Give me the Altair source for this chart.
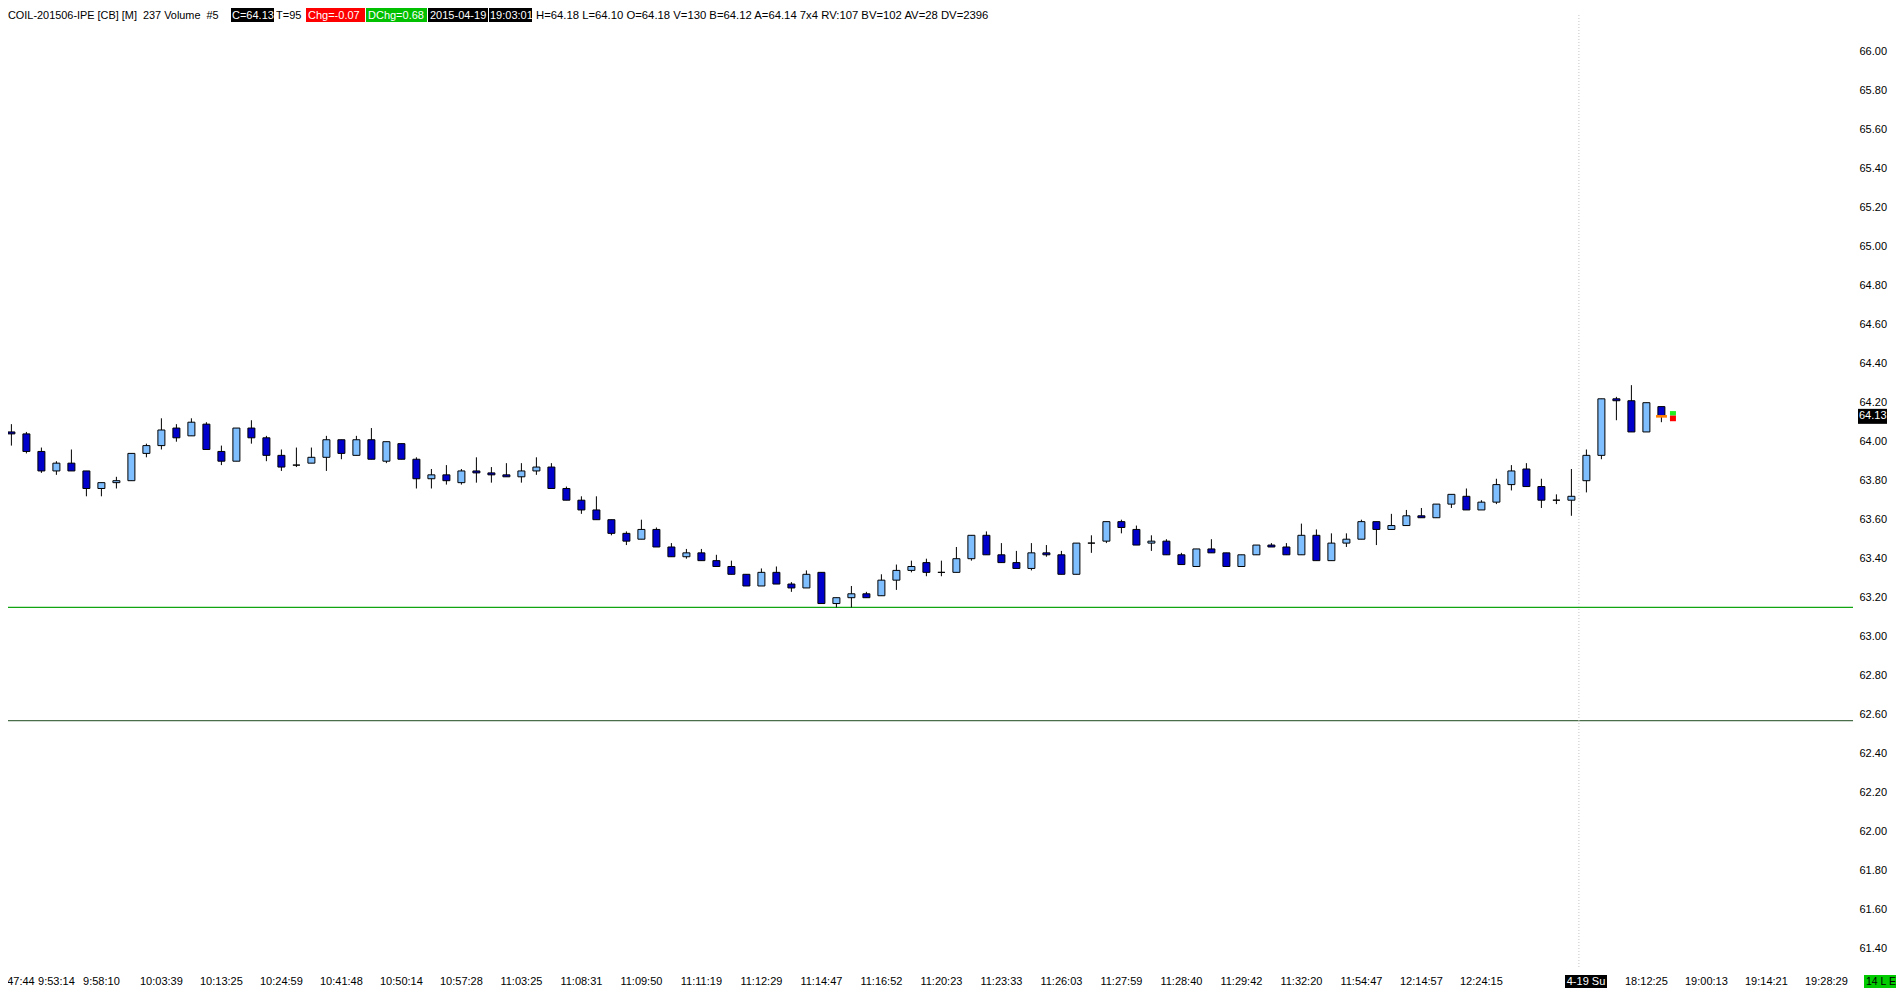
import altair as alt
import pandas as pd

# ---------------- data ----------------
opens = [64.05, 64.04, 63.95, 63.85, 63.89, 63.85, 63.76, 63.79, 63.80, 63.94,
         63.98, 64.07, 64.03, 64.09, 63.95, 63.90, 64.07, 64.02, 63.93, 63.88,
         63.89, 63.92, 64.01, 63.93, 64.01, 63.90, 63.99, 63.91, 63.81, 63.83,
         63.79, 63.85, 63.84, 63.83, 63.82, 63.85, 63.87, 63.76, 63.70, 63.65,
         63.60, 63.53, 63.50, 63.55, 63.46, 63.41, 63.43, 63.39, 63.36, 63.32,
         63.26, 63.33, 63.27, 63.25, 63.33, 63.17, 63.20, 63.22, 63.21, 63.29,
         63.34, 63.38, 63.33, 63.33, 63.40, 63.52, 63.42, 63.38, 63.35, 63.43,
         63.42, 63.32, 63.48, 63.49, 63.59, 63.55, 63.48, 63.49, 63.42, 63.36,
         63.45, 63.43, 63.36, 63.42, 63.47, 63.46, 63.42, 63.52, 63.39, 63.48,
         63.50, 63.59, 63.55, 63.57, 63.62, 63.61, 63.68, 63.72, 63.65, 63.69,
         63.78, 63.86, 63.77, 63.70, 63.70, 63.80, 63.93, 64.22, 64.21, 64.05,
         64.18]
highs = [64.09, 64.05, 63.97, 63.90, 63.96, 63.85, 63.79, 63.82, 63.94, 63.99,
         64.12, 64.09, 64.12, 64.10, 63.98, 64.07, 64.11, 64.03, 63.96, 63.97,
         63.97, 64.03, 64.01, 64.03, 64.07, 64.00, 63.99, 63.92, 63.86, 63.88,
         63.86, 63.92, 63.87, 63.89, 63.89, 63.92, 63.89, 63.77, 63.72, 63.72,
         63.60, 63.54, 63.60, 63.56, 63.48, 63.45, 63.45, 63.42, 63.39, 63.32,
         63.35, 63.36, 63.28, 63.34, 63.33, 63.20, 63.26, 63.23, 63.32, 63.37,
         63.39, 63.40, 63.39, 63.46, 63.52, 63.54, 63.48, 63.44, 63.48, 63.47,
         63.44, 63.48, 63.52, 63.59, 63.60, 63.57, 63.52, 63.50, 63.43, 63.45,
         63.50, 63.43, 63.42, 63.47, 63.48, 63.48, 63.58, 63.55, 63.53, 63.53,
         63.60, 63.59, 63.63, 63.65, 63.66, 63.68, 63.73, 63.76, 63.70, 63.81,
         63.88, 63.89, 63.81, 63.73, 63.86, 63.96, 64.22, 64.23, 64.29, 64.20,
         64.18]
lows = [63.98, 63.94, 63.84, 63.83, 63.85, 63.72, 63.72, 63.76, 63.80, 63.92,
        63.96, 64.00, 64.03, 63.96, 63.88, 63.90, 63.99, 63.90, 63.85, 63.87,
        63.89, 63.85, 63.91, 63.93, 63.91, 63.89, 63.91, 63.76, 63.76, 63.78,
        63.78, 63.79, 63.79, 63.82, 63.79, 63.83, 63.76, 63.70, 63.63, 63.60,
        63.52, 63.47, 63.50, 63.46, 63.41, 63.40, 63.39, 63.36, 63.32, 63.26,
        63.26, 63.27, 63.23, 63.25, 63.17, 63.15, 63.15, 63.20, 63.21, 63.24,
        63.33, 63.31, 63.31, 63.33, 63.39, 63.42, 63.38, 63.35, 63.34, 63.41,
        63.32, 63.32, 63.43, 63.48, 63.53, 63.47, 63.44, 63.42, 63.37, 63.36,
        63.43, 63.36, 63.36, 63.42, 63.46, 63.42, 63.42, 63.39, 63.39, 63.46,
        63.50, 63.47, 63.55, 63.57, 63.61, 63.61, 63.66, 63.65, 63.65, 63.68,
        63.75, 63.77, 63.66, 63.68, 63.62, 63.74, 63.91, 64.11, 64.05, 64.05,
        64.10]
closes = [64.04, 63.95, 63.85, 63.89, 63.85, 63.76, 63.79, 63.80, 63.94, 63.98,
          64.06, 64.02, 64.10, 63.96, 63.90, 64.07, 64.02, 63.93, 63.87, 63.88,
          63.92, 64.01, 63.94, 64.01, 63.91, 64.00, 63.91, 63.81, 63.83, 63.80,
          63.85, 63.84, 63.83, 63.82, 63.85, 63.87, 63.76, 63.70, 63.65, 63.60,
          63.53, 63.49, 63.55, 63.46, 63.41, 63.43, 63.39, 63.36, 63.32, 63.26,
          63.33, 63.27, 63.25, 63.32, 63.17, 63.20, 63.22, 63.20, 63.29, 63.34,
          63.36, 63.33, 63.33, 63.40, 63.52, 63.42, 63.38, 63.35, 63.43, 63.42,
          63.32, 63.48, 63.48, 63.59, 63.56, 63.47, 63.49, 63.42, 63.37, 63.45,
          63.43, 63.36, 63.42, 63.47, 63.46, 63.42, 63.52, 63.39, 63.48, 63.50,
          63.59, 63.55, 63.57, 63.62, 63.61, 63.68, 63.73, 63.65, 63.69, 63.78,
          63.85, 63.77, 63.70, 63.70, 63.72, 63.93, 64.22, 64.21, 64.05, 64.20,
          64.13]

tick_idx = [0, 3, 6, 10, 14, 18, 22, 26, 30, 34, 38, 42, 46, 50, 54, 58, 62,
            66, 70, 74, 78, 82, 86, 90, 94, 98, 109, 113, 117, 121]
tick_text = ["9:47:44", "9:53:14", "9:58:10", "10:03:39", "10:13:25", "10:24:59",
             "10:41:48", "10:50:14", "10:57:28", "11:03:25", "11:08:31", "11:09:50",
             "11:11:19", "11:12:29", "11:14:47", "11:16:52", "11:20:23", "11:23:33",
             "11:26:03", "11:27:59", "11:28:40", "11:29:42", "11:32:20", "11:54:47",
             "12:14:57", "12:24:15", "18:12:25", "19:00:13", "19:14:21", "19:28:29"]
session_breaks = [104.5]
session_label = ["4-19 Su"]

ytick_values = [61.4, 61.6, 61.8, 62.0, 62.2, 62.4, 62.6, 62.8, 63.0, 63.2, 63.4,
                63.6, 63.8, 64.0, 64.2, 64.4, 64.6, 64.8, 65.0, 65.2, 65.4, 65.6,
                65.8, 66.0]
level_upper = [63.15]
level_lower = [62.57]
last_price = [64.13]
bid_band = [64.105, 64.135]
ask_band = [64.135, 64.157]

header_texts = ["COIL-201506-IPE [CB] [M]\u00a0\u00a0237 Volume\u00a0\u00a0#5", "C=64.13",
                "T=95", "Chg=-0.07", "DChg=0.68", "2015-04-19", "19:03:01",
                "H=64.18 L=64.10 O=64.18 V=130 B=64.12 A=64.14 7x4 RV:107 BV=102 AV=28 DV=2396"]
status_text = ["14 L E"]

# ---------------- layout / style ----------------
W, H = 1845, 960
XDOM = [-0.2267, 122.773]
YDOM = [61.301, 66.2241]
FONT = "Liberation Sans"
UP, DOWN = "#80bfff", "#0000cd"
LABEL_Y = 974

# header layout: (box x0, box x1, fill or "", text x, text colour, font size)
header_layout = [
    (None, None, "", 0, "black", 10.9),
    (223, 266, "black", 224, "white", 11),
    (None, None, "", 268, "black", 11),
    (298, 357, "#ff0000", 300, "white", 11),
    (358, 419, "#00c000", 360, "white", 11),
    (420, 480, "black", 422, "white", 11),
    (481, 524, "black", 482, "white", 11),
    (None, None, "", 528, "black", 11.3),
]

xs = alt.Scale(domain=XDOM, nice=False, zero=False, padding=0)
ys = alt.Scale(domain=YDOM, nice=False, zero=False, padding=0)
YAXIS = alt.Axis(orient="right", values=ytick_values, format=".2f",
                 domain=False, ticks=False, tickSize=0, grid=False,
                 labelPadding=6, labelFont=FONT, labelFontSize=11,
                 labelColor="black", title=None)


def X(field):
    return alt.X(field, type="quantitative", scale=xs, axis=None)


def Y(field):
    return alt.Y(field, type="quantitative", scale=ys, axis=YAXIS)


n = len(opens)
bars = pd.DataFrame({"i": list(range(n)), "open": opens, "high": highs,
                     "low": lows, "close": closes})
bars["dir"] = ["up" if c >= o else "down" for o, c in zip(opens, closes)]

layers = []

# support / resistance lines
layers.append(alt.Chart(pd.DataFrame({"v": level_upper})).mark_rule(
    color="#12a512", strokeWidth=1.2).encode(y=Y("v"), x=alt.value(0), x2=alt.value(W)))
layers.append(alt.Chart(pd.DataFrame({"v": level_lower})).mark_rule(
    color="#4a6e4a", strokeWidth=1.2).encode(y=Y("v"), x=alt.value(0), x2=alt.value(W)))

# session break
layers.append(alt.Chart(pd.DataFrame({"x": session_breaks})).mark_rule(
    color="#c4c4c4", strokeWidth=1, strokeDash=[1, 2]).encode(
    x=X("x"), y=alt.value(7), y2=alt.value(H)))

# candles
base = alt.Chart(bars)
layers.append(base.mark_rule(color="black", strokeWidth=1).encode(
    x=X("i"), y=Y("low"), y2="high:Q"))
layers.append(base.mark_bar(size=7, stroke="black", strokeWidth=1).encode(
    x=X("i"), y=Y("open"), y2="close:Q",
    fill=alt.Fill("dir:N", scale=alt.Scale(domain=["up", "down"], range=[UP, DOWN]),
                  legend=None)))

# last price marker on the forming bar (orange), bid/ask boxes
lp = pd.DataFrame({"v": last_price, "i": [n - 1]})
layers.append(alt.Chart(lp).mark_rect(color="#ff8000").transform_calculate(
    x0="datum.i - 0.36", x1="datum.i + 0.37",
    y0="datum.v + 1.3/195", y1="datum.v - 1.3/195").encode(
    x=X("x0"), x2="x1:Q", y=Y("y0"), y2="y1:Q"))
for band, col in [(bid_band, "#ff0000"), (ask_band, "#22ee22")]:
    bd = pd.DataFrame({"lo": [band[0]], "hi": [band[1]], "i": [n - 1]})
    layers.append(alt.Chart(bd).mark_rect(color=col).transform_calculate(
        x0="datum.i + 0.57", x1="datum.i + 0.97").encode(
        x=X("x0"), x2="x1:Q", y=Y("lo"), y2="hi:Q"))

# last price tag on the right axis
layers.append(alt.Chart(lp).mark_rect(color="black").transform_calculate(
    y0="datum.v + 7.5/195", y1="datum.v - 7.5/195").encode(
    x=alt.value(1850), x2=alt.value(1879), y=Y("y0"), y2="y1:Q"))
layers.append(alt.Chart(lp).mark_text(font=FONT, fontSize=11, color="white",
                                      align="left", baseline="middle").encode(
    x=alt.value(1851), y=Y("v"), text=alt.Text("v:Q", format=".2f")))

# x axis labels (first one sits half outside the left edge, as in the original)
xl = pd.DataFrame({"i": tick_idx, "t": tick_text})
layers.append(alt.Chart(xl).mark_text(font=FONT, fontSize=11, color="black",
                                      align="center", baseline="middle").transform_calculate(
    xi="datum.i == 0 ? datum.i + 0.33 : datum.i").encode(
    x=X("xi"), y=alt.value(LABEL_Y), text="t:N"))

# session date tag
sl = pd.DataFrame({"t": session_label})
layers.append(alt.Chart(sl).mark_rect(color="black").encode(
    x=alt.value(1557), x2=alt.value(1599), y=alt.value(LABEL_Y - 7), y2=alt.value(LABEL_Y + 7)))
layers.append(alt.Chart(sl).mark_text(font=FONT, fontSize=11, color="white",
                                      align="center", baseline="middle").encode(
    x=alt.value(1578), y=alt.value(LABEL_Y), text="t:N"))

# status box bottom right
st = pd.DataFrame({"t": status_text})
layers.append(alt.Chart(st).mark_rect(color="#00cc00").encode(
    x=alt.value(1856), x2=alt.value(1888), y=alt.value(LABEL_Y - 7), y2=alt.value(LABEL_Y + 7)))
layers.append(alt.Chart(st).mark_text(font=FONT, fontSize=10.5, color="black",
                                      align="left", baseline="middle").encode(
    x=alt.value(1858), y=alt.value(LABEL_Y), text="t:N"))

# header line
for txt, (bx0, bx1, fill, tx, tcol, fs) in zip(header_texts, header_layout):
    hd = pd.DataFrame({"t": [txt]})
    if fill:
        layers.append(alt.Chart(hd).mark_rect(color=fill).encode(
            x=alt.value(bx0), x2=alt.value(bx1), y=alt.value(0), y2=alt.value(14)))
    layers.append(alt.Chart(hd).mark_text(font=FONT, fontSize=fs, color=tcol,
                                          align="left", baseline="middle").encode(
        x=alt.value(tx), y=alt.value(7.5), text="t:N"))

chart = alt.layer(*layers).properties(
    width=W, height=H,
    autosize=alt.AutoSizeParams(type="none"),
    padding={"left": 0, "top": 0, "right": 43, "bottom": 20},
    background="white",
).configure_view(stroke=None)

chart.save("out.html", embed_options={"renderer": "svg", "actions": False})
